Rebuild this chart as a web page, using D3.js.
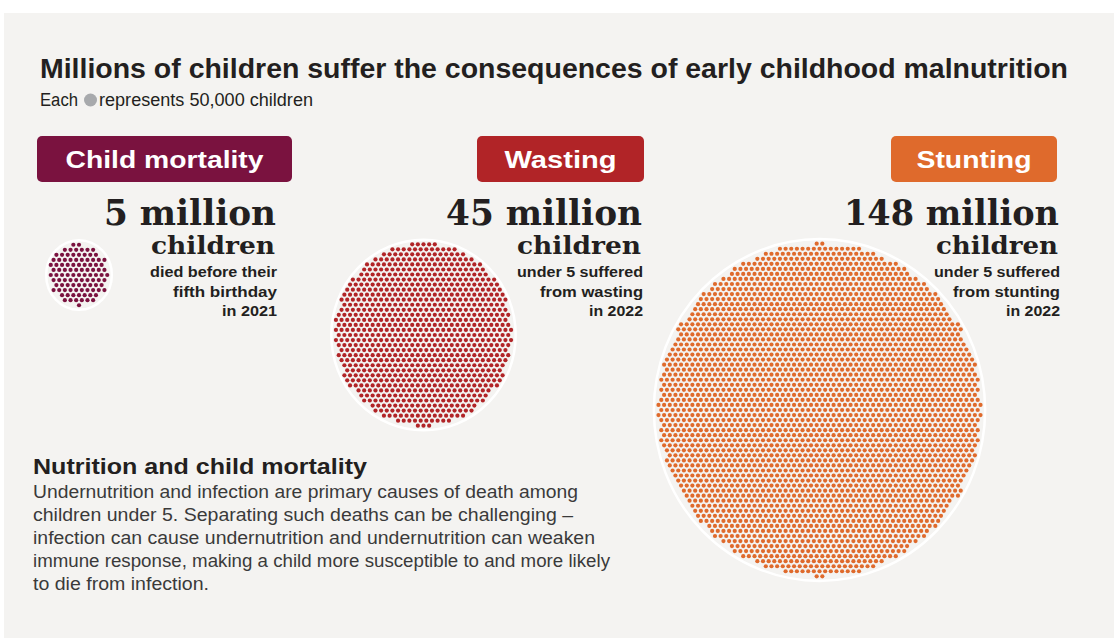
<!DOCTYPE html>
<html>
<head>
<meta charset="utf-8">
<script src="https://cdn.jsdelivr.net/npm/d3@7"></script>
<style>
  html, body { margin: 0; padding: 0; background: #ffffff; }
  svg { display: block; }
</style>
</head>
<body>
<svg id="chart" width="1114" height="638"></svg>
<script>
// ---- data ----
const categories = ["Child mortality", "Wasting", "Stunting"];
const millions = [5, 45, 148];
const valueLabels = ["5 million", "45 million", "148 million"];
const unitLabel = "children";
const notes = [
  ["died before their", "fifth birthday", "in 2021"],
  ["under 5 suffered", "from wasting", "in 2022"],
  ["under 5 suffered", "from stunting", "in 2022"]
];
const childrenPerDot = 50000;
const colors = ["#7a123f", "#b12427", "#df6a2c"];

const titleText = "Millions of children suffer the consequences of early childhood malnutrition";
const subtitleParts = ["Each", "represents 50,000 children"];
const boxHeading = "Nutrition and child mortality";
const boxLines = [
  "Undernutrition and infection are primary causes of death among",
  "children under 5. Separating such deaths can be challenging \u2013",
  "infection can cause undernutrition and undernutrition can weaken",
  "immune response, making a child more susceptible to and more likely",
  "to die from infection."
];

// ---- layout ----
const svg = d3.select("#chart");
const INK = "#231f20";
const SANS = "'Liberation Sans', Arial, sans-serif";
const SLAB = "'DejaVu Serif', serif";

// background panel
svg.append("rect").attr("x", 4).attr("y", 13).attr("width", 1110).attr("height", 625).attr("fill", "#f4f3f1");

function fit(sel, width) {
  const w = sel.node().getComputedTextLength();
  if (Math.abs(w - width) > 0.5) sel.attr("textLength", width).attr("lengthAdjust", "spacingAndGlyphs");
  return sel;
}

// title + subtitle
fit(svg.append("text").attr("x", 40).attr("y", 78)
  .attr("font-family", SANS).attr("font-weight", 700).attr("font-size", 28)
  .attr("fill", INK).text(titleText), 1028);

fit(svg.append("text").attr("x", 40).attr("y", 106)
  .attr("font-family", SANS).attr("font-size", 18).attr("fill", INK).text(subtitleParts[0]), 38);
svg.append("circle").attr("cx", 90.5).attr("cy", 100).attr("r", 6.5).attr("fill", "#a7a9ac");
fit(svg.append("text").attr("x", 99).attr("y", 106)
  .attr("font-family", SANS).attr("font-size", 18).attr("fill", INK).text(subtitleParts[1]), 214);

// per-category panels
const panels = [
  { boxX: 37, boxW: 255, right: 277, cx: 79, cy: 275, numW: 172, chW: 124, noteW: [127, 104, 55] },
  { boxX: 477, boxW: 167, right: 643, cx: 423.5, cy: 335, numW: 196, chW: 124, noteW: [126, 103, 54] },
  { boxX: 891, boxW: 166, right: 1060, cx: 819.5, cy: 410, numW: 215, chW: 122, noteW: [126, 107, 54] }
];

// hexagonal lattice in unit spacing, ordered by distance from the centre
const lattice = [];
for (let j = -40; j <= 40; j++) {
  for (let i = -40; i <= 40; i++) {
    const x = i + (Math.abs(j) % 2 ? 0.5 : 0);
    const y = j * Math.sqrt(3) / 2;
    lattice.push({ x, y, d: Math.hypot(x, y) + 1e-6 * (Math.atan2(y, x) + Math.PI) });
  }
}
lattice.sort((a, b) => a.d - b.d);

const dotStep = 5.65;     // px between neighbouring dots
const yStretch = 1.03;
const dotR = 2.1;

categories.forEach((cat, k) => {
  const p = panels[k];
  const g = svg.append("g");

  // label box
  g.append("rect").attr("x", p.boxX).attr("y", 136).attr("width", p.boxW).attr("height", 46)
    .attr("rx", 5).attr("fill", colors[k]);
  fit(g.append("text").attr("x", p.boxX + p.boxW / 2).attr("y", 168).attr("text-anchor", "middle")
    .attr("font-family", SANS).attr("font-weight", 700).attr("font-size", 24)
    .attr("fill", "#ffffff").text(cat), k === 0 ? 198 : (k === 1 ? 112 : 115));

  // dots
  const n = Math.round(millions[k] * 1e6 / childrenPerDot);
  const pts = lattice.slice(0, n);
  const xs = d3.scaleLinear().domain([0, 1]).range([p.cx, p.cx + dotStep]);
  const ys = d3.scaleLinear().domain([0, 1]).range([p.cy, p.cy + dotStep * yStretch]);
  const ext = d3.max(pts, d => Math.abs(d.x));
  const eyt = d3.max(pts, d => Math.abs(d.y));
  g.append("ellipse").attr("cx", p.cx).attr("cy", p.cy)
    .attr("rx", xs(ext) - p.cx + dotR + 2.5).attr("ry", ys(eyt) - p.cy + dotR + 2.5)
    .attr("fill", "none").attr("stroke", "#ffffff").attr("stroke-width", 2.5);
  g.selectAll("circle.dot").data(pts).join("circle").attr("class", "dot")
    .attr("cx", d => xs(d.x)).attr("cy", d => ys(d.y)).attr("r", dotR).attr("fill", colors[k]);

  // value text
  fit(g.append("text").attr("x", p.right - 1).attr("y", 225).attr("text-anchor", "end")
    .attr("font-family", SLAB).attr("font-weight", 700).attr("font-size", 36)
    .attr("fill", INK).text(valueLabels[k]), p.numW);
  fit(g.append("text").attr("x", p.right - 2).attr("y", 254).attr("text-anchor", "end")
    .attr("font-family", SLAB).attr("font-weight", 700).attr("font-size", 24)
    .attr("fill", INK).text(unitLabel), p.chW);
  notes[k].forEach((line, i) => {
    fit(g.append("text").attr("x", p.right).attr("y", 277 + i * 19.5).attr("text-anchor", "end")
      .attr("font-family", SANS).attr("font-weight", 700).attr("font-size", 14.5)
      .attr("fill", INK).text(line), p.noteW[i]);
  });
});

// explanatory note
fit(svg.append("text").attr("x", 33).attr("y", 474)
  .attr("font-family", SANS).attr("font-weight", 700).attr("font-size", 22)
  .attr("fill", INK).text(boxHeading), 334);
const lineW = [545, 540, 562, 577, 176];
boxLines.forEach((line, i) => {
  fit(svg.append("text").attr("x", 33).attr("y", 498 + i * 23)
    .attr("font-family", SANS).attr("font-size", 17.5)
    .attr("fill", "#3a3a3a").text(line), lineW[i]);
});
</script>
</body>
</html>
